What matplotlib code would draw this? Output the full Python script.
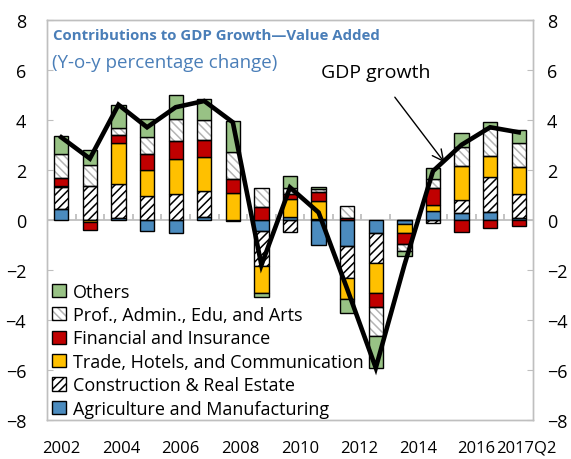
import numpy as np
import matplotlib.pyplot as plt
from matplotlib.patches import Patch

plt.rcParams['font.family'] = ['Open Sans', 'DejaVu Sans']
plt.rcParams['hatch.linewidth'] = 1.1

# data
categories = ['2002', '2003', '2004', '2005', '2006', '2007', '2008', '2009', '2010',
              '2011', '2012', '2013', '2014', '2015', '2016', '2017Q1', '2017Q2']
agri = [0.43, 0.00, 0.09, -0.44, -0.53, 0.13, 0.00, -0.44, 0.13,
        -1.00, -1.02, -0.53, -0.17, 0.37, 0.27, 0.31, 0.10]
constr = [0.87, 1.36, 1.34, 0.97, 1.02, 1.02, -0.05, -1.40, -0.47,
          0.04, -1.30, -1.20, 0.00, -0.10, 0.53, 1.40, 0.92]
trade = [0.06, -0.08, 1.65, 1.02, 1.41, 1.37, 1.09, -1.06, 0.69,
         0.73, -0.82, -1.20, -0.36, 0.23, 1.37, 0.86, 1.10]
fin = [0.30, -0.33, 0.30, 0.64, 0.73, 0.69, 0.56, 0.52, 0.23,
       0.33, 0.09, -0.56, -0.43, 0.66, -0.47, -0.31, -0.23]
prof = [0.97, 0.85, 0.31, 0.69, 0.86, 0.77, 1.06, 0.77, 0.24,
        0.13, 0.48, -1.13, -0.27, 0.36, 0.73, 1.09, 0.96]
others = [0.71, 0.60, 0.89, 0.70, 0.96, 0.84, 1.24, -0.16, 0.47,
          0.07, -0.57, -1.30, -0.21, 0.47, 0.56, 0.27, 0.53]
gdp = [3.3, 2.45, 4.6, 3.7, 4.5, 4.75, 3.9, -1.8, 1.3,
       0.3, -2.75, -5.9, -1.8, 1.95, 3.0, 3.7, 3.5]

tick_labels = ['2002', '2004', '2006', '2008', '2010', '2012', '2014', '2016', '2017Q2']
tick_pos = [0, 2.1, 4.15, 6.25, 8.35, 10.4, 12.5, 14.5, 16.25]

names = ['Agriculture and Manufacturing', 'Construction & Real Estate',
         'Trade, Hotels, and Communication', 'Financial and Insurance',
         'Prof., Admin., Edu, and Arts', 'Others']
series = [agri, constr, trade, fin, prof, others]
fills = ['#4B8BBE', 'white', '#FFC000', '#C00000', 'white', '#98C285']
hatches = [None, '////', None, None, '\\\\\\\\', None]
hatch_cols = [None, 'black', None, None, '#B4B4B4', None]

fig = plt.figure(figsize=(5.71, 4.6), dpi=100)
ax = fig.add_axes([0.0823, 0.0837, 0.8512, 0.8717])

x = np.arange(len(categories))
w = 0.5
pos_base = np.zeros(len(x))
neg_base = np.zeros(len(x))
handles = []
for vals, fc, h, hc, name in zip(series, fills, hatches, hatch_cols, names):
    v = np.array(vals)
    bottom = np.where(v >= 0, pos_base, neg_base)
    if h:
        ax.bar(x, v, w, bottom=bottom, color=fc, edgecolor=hc, hatch=h,
               linewidth=0, zorder=2)
        ax.bar(x, v, w, bottom=bottom, fill=False, edgecolor='black',
               linewidth=1, zorder=3)
        handles.append((Patch(facecolor=fc, edgecolor=hc, hatch=h, linewidth=0),
                        Patch(fill=False, edgecolor='black', linewidth=1)))
    else:
        ax.bar(x, v, w, bottom=bottom, color=fc, edgecolor='black',
               linewidth=1, zorder=3)
        handles.append(Patch(facecolor=fc, edgecolor='black', linewidth=1))
    pos_base += np.clip(v, 0, None)
    neg_base += np.clip(v, None, 0)

ax.plot(x, gdp, color='black', lw=3.3, zorder=5, solid_joinstyle='miter')

# horizontal zero axis with category ticks
ax.axhline(0, color='#BFBFBF', lw=1.3, zorder=1)
ax.vlines(np.arange(0.5, len(x) - 0.5), 0, 0.22, color='#BFBFBF', lw=1.3, zorder=1)

ax.set_xlim(-0.5, len(x) - 0.5)
ax.set_ylim(-8, 8)
ax.set_yticks(np.arange(-8, 9, 2))
ax.set_xticks(tick_pos)
ax.set_xticklabels(tick_labels)
ax.tick_params(axis='x', length=0, pad=14, labelsize=12)
ax.tick_params(axis='y', direction='in', length=4, color='#BFBFBF', labelsize=13,
               left=True, right=False, pad=15)
for s in ax.spines.values():
    s.set_color('#BFBFBF')
    s.set_linewidth(1.0)

ax2 = ax.twinx()
ax2.set_ylim(-8, 8)
ax2.set_yticks(np.arange(-8, 9, 2))
ax2.tick_params(axis='y', direction='in', length=4, color='#BFBFBF', labelsize=13, pad=10)
for s in ax2.spines.values():
    s.set_color('#BFBFBF')
    s.set_linewidth(1.0)

ax.text(0.012, 0.962, 'Contributions to GDP Growth\u2014Value Added', transform=ax.transAxes,
        fontsize=10.8, fontweight='bold', color='#4A7EB8', va='center', ha='left')
ax.text(0.010, 0.895, '(Y-o-y percentage change)', transform=ax.transAxes,
        fontsize=13.5, color='#4A7EB8', va='center', ha='left')

ax.annotate('GDP growth', xy=(13.4, 2.3), xytext=(11.0, 5.9),
            ha='center', va='center', fontsize=14,
            arrowprops=dict(arrowstyle='->', color='black', lw=1,
                            mutation_scale=20, shrinkA=12, shrinkB=0))

leg = ax.legend(handles[::-1], names[::-1], loc='lower left', bbox_to_anchor=(-0.012, -0.02),
                frameon=False, fontsize=13, handlelength=0.75, handleheight=0.75,
                handletextpad=0.4, labelspacing=0.3, borderaxespad=0.2)

fig.savefig('out.png', dpi=100)
